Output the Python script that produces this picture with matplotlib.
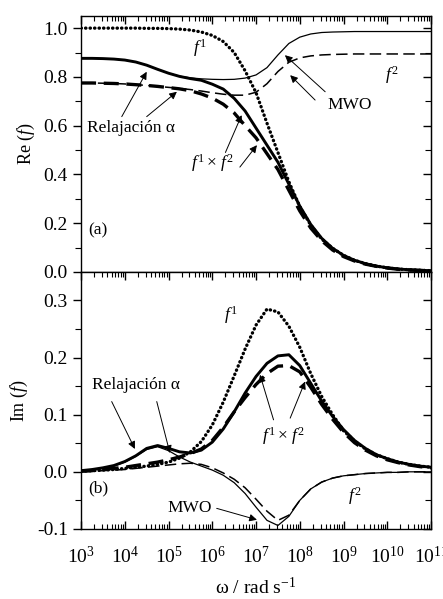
import numpy as np
import matplotlib
matplotlib.use("Agg")
import matplotlib.pyplot as plt
from matplotlib.ticker import FixedLocator, FormatStrFormatter, LogLocator, NullFormatter

plt.rcParams['font.family'] = ['Liberation Serif', 'DejaVu Serif']
plt.rcParams['mathtext.fontset'] = 'custom'
plt.rcParams['mathtext.rm'] = 'Liberation Serif'
plt.rcParams['mathtext.it'] = 'Liberation Serif:italic'
plt.rcParams['axes.unicode_minus'] = False

# log10 of angular frequency (rad/s)
log_w = [3.00, 3.25, 3.50, 3.75, 4.00, 4.25, 4.50, 4.75, 5.00, 5.25, 5.50,
         5.75, 6.00, 6.25, 6.50, 6.75, 7.00, 7.25, 7.50, 7.75, 8.00, 8.25,
         8.50, 8.75, 9.00, 9.25, 9.50, 9.75, 10.00, 10.25, 10.50, 10.75, 11.00]

# f1 (dotted)
re_f1 = [1.000, 1.000, 1.000, 1.000, 1.000, 1.000, 0.999, 0.999, 0.998, 0.996, 0.992,
         0.984, 0.970, 0.945, 0.900, 0.825, 0.735, 0.610, 0.490, 0.370, 0.268, 0.192,
         0.135, 0.097, 0.068, 0.048, 0.034, 0.024, 0.017, 0.012, 0.009, 0.007, 0.005]
im_f1 = [0.001, 0.002, 0.003, 0.004, 0.006, 0.008, 0.010, 0.013, 0.017, 0.024, 0.035,
         0.053, 0.082, 0.122, 0.168, 0.215, 0.257, 0.285, 0.280, 0.255, 0.218, 0.172,
         0.132, 0.100, 0.072, 0.054, 0.040, 0.030, 0.023, 0.017, 0.013, 0.010, 0.008]

# f2, variant A (thin solid)
re_f2a = [0.876, 0.876, 0.875, 0.873, 0.869, 0.861, 0.848, 0.831, 0.815, 0.803, 0.796,
          0.792, 0.790, 0.789, 0.790, 0.795, 0.808, 0.838, 0.890, 0.937, 0.963, 0.976,
          0.982, 0.984, 0.985, 0.986, 0.986, 0.986, 0.986, 0.986, 0.986, 0.986, 0.986]
im_f2a = [0.002, 0.004, 0.006, 0.010, 0.017, 0.027, 0.039, 0.044, 0.037, 0.026, 0.017,
          0.010, 0.003, -0.006, -0.019, -0.038, -0.062, -0.085, -0.094, -0.078, -0.050, -0.030,
          -0.018, -0.011, -0.007, -0.005, -0.003, -0.002, -0.001, -0.001, 0.000, 0.000, 0.000]

# f1 x f2A (thick solid)
re_prod_a = [0.876, 0.876, 0.875, 0.873, 0.869, 0.861, 0.848, 0.831, 0.815, 0.802, 0.793,
             0.786, 0.770, 0.750, 0.712, 0.660, 0.590, 0.520, 0.450, 0.360, 0.270, 0.195,
             0.138, 0.097, 0.068, 0.048, 0.034, 0.024, 0.017, 0.012, 0.009, 0.007, 0.005]
im_prod_a = [0.002, 0.004, 0.007, 0.011, 0.018, 0.028, 0.041, 0.046, 0.041, 0.035, 0.033,
             0.038, 0.052, 0.075, 0.105, 0.138, 0.167, 0.190, 0.203, 0.205, 0.186, 0.155,
             0.124, 0.097, 0.074, 0.055, 0.041, 0.030, 0.023, 0.017, 0.013, 0.010, 0.008]

# f2, variant B (thin dashed)
re_f2b = [0.775, 0.775, 0.774, 0.773, 0.771, 0.768, 0.765, 0.761, 0.757, 0.753, 0.748,
          0.742, 0.735, 0.729, 0.725, 0.725, 0.737, 0.772, 0.822, 0.860, 0.878, 0.886,
          0.890, 0.892, 0.893, 0.894, 0.894, 0.894, 0.894, 0.894, 0.894, 0.894, 0.894]
im_f2b = [0.000, 0.001, 0.002, 0.003, 0.004, 0.006, 0.008, 0.010, 0.012, 0.014, 0.015,
          0.013, 0.007, -0.002, -0.013, -0.028, -0.048, -0.069, -0.085, -0.076, -0.050, -0.030,
          -0.018, -0.011, -0.007, -0.005, -0.003, -0.002, -0.001, -0.001, 0.000, 0.000, 0.000]

# f1 x f2B (thick dashed)
re_prod_b = [0.775, 0.775, 0.774, 0.773, 0.771, 0.768, 0.765, 0.761, 0.756, 0.751, 0.743,
             0.730, 0.713, 0.688, 0.652, 0.600, 0.550, 0.485, 0.420, 0.335, 0.250, 0.180,
             0.128, 0.090, 0.063, 0.045, 0.032, 0.023, 0.016, 0.011, 0.008, 0.006, 0.005]
im_prod_b = [0.001, 0.002, 0.004, 0.006, 0.008, 0.011, 0.014, 0.017, 0.021, 0.026, 0.032,
             0.040, 0.055, 0.078, 0.105, 0.130, 0.153, 0.172, 0.185, 0.186, 0.175, 0.148,
             0.118, 0.092, 0.069, 0.051, 0.038, 0.028, 0.021, 0.016, 0.012, 0.009, 0.007]

w = 10.0 ** np.array(log_w)

fig = plt.figure(figsize=(4.43, 5.99), dpi=100)
ax1 = fig.add_axes([0.183, 0.546, 0.790, 0.427])
ax2 = fig.add_axes([0.183, 0.117, 0.790, 0.429])

dot = dict(color='k', lw=2.4, linestyle=(0, (0.1, 1.25)), dash_capstyle='round')
thin_solid = dict(color='k', lw=0.9)
thick_solid = dict(color='k', lw=2.1)
thin_dash = dict(color='k', lw=1.1, linestyle=(0, (7.5, 3.5)))
thick_dash = dict(color='k', lw=2.4, linestyle=(0, (4.5, 2.3)))

# (a) real parts
ax1.plot(w, re_f2a, **thin_solid)
ax1.plot(w, re_f2b, **thin_dash)
ax1.plot(w, re_prod_b, **thick_dash)
ax1.plot(w, re_prod_a, **thick_solid)
ax1.plot(w, re_f1, **dot)

# (b) imaginary parts
ax2.plot(w, im_f2a, **thin_solid)
ax2.plot(w, im_f2b, **thin_dash)
ax2.plot(w, im_prod_b, **thick_dash)
ax2.plot(w, im_prod_a, **thick_solid)
ax2.plot(w, im_f1, **dot)

secs = []
for ax in (ax1, ax2):
    ax.set_xscale('log')
    ax.set_xlim(1e3, 1e11)
    ax.xaxis.set_major_locator(FixedLocator(10.0 ** np.arange(3, 12)))
    ax.xaxis.set_minor_locator(LogLocator(base=10, subs=np.arange(2, 10), numticks=100))
    ax.xaxis.set_minor_formatter(NullFormatter())
    ax.tick_params(axis='x', which='both', direction='in', top=True, bottom=True, labelsize=14)
    ax.tick_params(axis='x', which='major', length=6, width=1, pad=12)
    ax.tick_params(axis='x', which='minor', length=3.5, width=0.8)
    ax.tick_params(axis='y', which='both', direction='out', left=True, right=False, labelsize=14)
    ax.tick_params(axis='y', which='major', length=6, width=1)
    ax.tick_params(axis='y', which='minor', length=4, width=0.8)
    for s in ax.spines.values():
        s.set_linewidth(1.0)
    # inward ticks on the right spine
    sec = ax.secondary_yaxis('right')
    sec.tick_params(axis='y', which='both', direction='in', labelright=False)
    sec.tick_params(axis='y', which='major', length=6, width=1)
    sec.tick_params(axis='y', which='minor', length=4, width=0.8)
    secs.append(sec)

ax1.tick_params(axis='x', which='both', bottom=False, labelbottom=False)
ax1.set_ylim(0, 1.049)
ax1.yaxis.set_major_locator(FixedLocator([0.0, 0.2, 0.4, 0.6, 0.8, 1.0]))
ax1.yaxis.set_minor_locator(FixedLocator([0.1, 0.3, 0.5, 0.7, 0.9]))
ax1.yaxis.set_major_formatter(FormatStrFormatter('%.1f'))
secs[0].set_yticks([0.0, 0.2, 0.4, 0.6, 0.8, 1.0])
secs[0].set_yticks([0.1, 0.3, 0.5, 0.7, 0.9], minor=True)
ax1.set_ylabel('Re ($f$)', fontsize=13, labelpad=5)

ax2.set_ylim(-0.1, 0.35)
ax2.yaxis.set_major_locator(FixedLocator([-0.1, 0.0, 0.1, 0.2, 0.3]))
ax2.yaxis.set_minor_locator(FixedLocator([-0.05, 0.05, 0.15, 0.25]))
ax2.yaxis.set_major_formatter(FormatStrFormatter('%.1f'))
secs[1].set_yticks([-0.1, 0.0, 0.1, 0.2, 0.3])
secs[1].set_yticks([-0.05, 0.05, 0.15, 0.25, 0.35], minor=True)
ax2.set_ylabel('Im ($f$)', fontsize=13, labelpad=5)
ax2.set_xlabel('ω / rad s$^{-1}$', fontsize=14, labelpad=7)

arrow = dict(arrowstyle='-|>', color='k', lw=0.7, mutation_scale=11, shrinkA=0, shrinkB=0)
fs = 12.5

# panel (a) annotations
ax1.text(10**3.16, 0.172, '(a)', fontsize=fs, va='center')
ax1.text(10**5.72, 0.918, '$f^{\\mathit{1}}$', fontsize=fs, ha='center', va='center')
ax1.text(10**10.10, 0.807, '$f^{\\mathit{2}}$', fontsize=fs, ha='center', va='center')
ax1.text(10**9.15, 0.684, 'MWO', fontsize=fs, ha='center', va='center')
ax1.annotate('', xy=(10**7.66, 0.889), xytext=(10**8.58, 0.739), arrowprops=arrow)
ax1.annotate('', xy=(10**7.78, 0.807), xytext=(10**8.35, 0.705), arrowprops=arrow)
ax1.text(10**3.13, 0.59, 'Relajación α', fontsize=fs, va='center')
ax1.annotate('', xy=(10**4.50, 0.821), xytext=(10**3.93, 0.637), arrowprops=arrow)
ax1.annotate('', xy=(10**5.19, 0.739), xytext=(10**4.50, 0.637), arrowprops=arrow)
ax1.text(10**6.0, 0.445, '$f^{\\mathit{1}}\\times\\, f^{\\mathit{2}}$', fontsize=fs, ha='center', va='center')
ax1.annotate('', xy=(10**6.67, 0.643), xytext=(10**6.30, 0.490), arrowprops=arrow)
ax1.annotate('', xy=(10**7.02, 0.520), xytext=(10**6.63, 0.430), arrowprops=arrow)

# panel (b) annotations
ax2.text(10**3.16, -0.029, '(b)', fontsize=fs, va='center')
ax2.text(10**6.41, 0.275, '$f^{\\mathit{1}}$', fontsize=fs, ha='center', va='center')
ax2.text(10**9.26, -0.043, '$f^{\\mathit{2}}$', fontsize=fs, ha='center', va='center')
ax2.text(10**3.24, 0.152, 'Relajación α', fontsize=fs, va='center')
ax2.annotate('', xy=(10**4.23, 0.040), xytext=(10**3.70, 0.123), arrowprops=arrow)
ax2.annotate('', xy=(10**5.03, 0.033), xytext=(10**4.73, 0.123), arrowprops=arrow)
ax2.text(10**7.62, 0.062, '$f^{\\mathit{1}}\\times\\, f^{\\mathit{2}}$', fontsize=fs, ha='center', va='center')
ax2.annotate('', xy=(10**7.09, 0.170), xytext=(10**7.40, 0.091), arrowprops=arrow)
ax2.annotate('', xy=(10**8.12, 0.158), xytext=(10**7.78, 0.094), arrowprops=arrow)
ax2.text(10**5.49, -0.064, 'MWO', fontsize=fs, ha='center', va='center')
ax2.annotate('', xy=(10**7.02, -0.084), xytext=(10**6.10, -0.064), arrowprops=arrow)

fig.savefig('out.png', dpi=100)
